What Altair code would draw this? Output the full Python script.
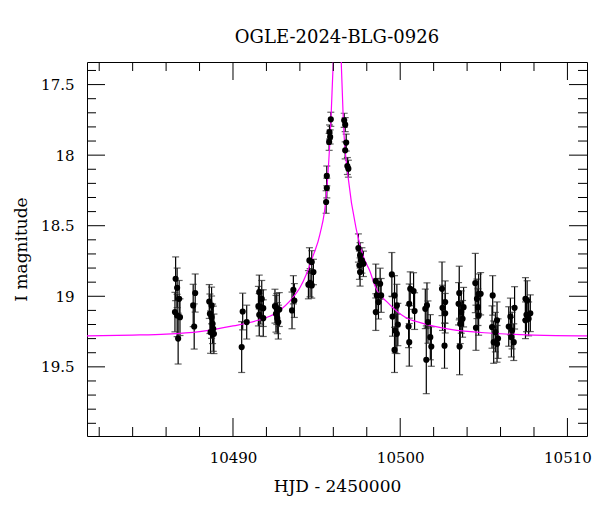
import altair as alt
import pandas as pd

# ---- observed photometry (HJD-2450000, I mag, error) ----
hjd = [
    10486.57, 10486.66, 10486.78, 10486.53, 10486.66, 10486.83, 10486.72,
    10487.74, 10487.62, 10487.68,
    10488.58, 10488.72, 10488.62, 10488.72, 10488.78, 10488.82, 10488.66, 10488.86,
    10490.58, 10490.52, 10490.82,
    10491.57, 10491.72, 10491.52, 10491.66, 10491.81, 10491.57, 10491.81,
    10492.51, 10492.62, 10492.77, 10492.57, 10492.65, 10492.71,
    10493.61, 10493.67, 10493.53,
    10494.57, 10494.71, 10494.81, 10494.61, 10494.71, 10494.51,
    10495.85, 10495.77, 10495.81, 10495.75, 10495.61, 10495.61, 10495.57,
    10496.65, 10496.71, 10496.77, 10496.71, 10496.84, 10496.90,
    10497.50, 10497.60, 10497.71, 10497.56, 10497.80, 10497.60,
    10498.54, 10498.80, 10498.60, 10498.86, 10498.70, 10498.54,
    10499.50, 10499.66, 10499.80, 10499.54, 10499.86, 10499.70, 10499.80, 10499.66,
    10500.60, 10500.80, 10500.54, 10500.86, 10500.50, 10500.54,
    10501.60, 10501.50, 10501.66, 10501.80, 10501.86, 10501.56,
    10502.50, 10502.69, 10502.53, 10502.69, 10502.65,
    10503.53, 10503.49, 10503.79, 10503.65, 10503.73, 10503.59, 10503.55,
    10504.49, 10504.69, 10504.81, 10504.59, 10504.65, 10504.69, 10504.53,
    10505.53, 10505.79, 10505.49, 10505.69, 10505.59, 10505.79, 10505.85,
    10506.84, 10506.59, 10506.49, 10506.69, 10506.65, 10506.79,
    10507.49, 10507.59, 10507.78, 10507.55, 10507.68, 10507.49,
]
imag = [
    18.876, 18.940, 19.018, 19.112, 19.136, 19.148, 19.300,
    18.977, 19.065, 19.214,
    19.037, 19.065, 19.124, 19.148, 19.195, 19.230, 19.254, 19.266,
    19.108, 19.360, 19.183,
    18.970, 19.018, 19.070, 19.077, 19.084, 19.131, 19.155,
    19.070, 19.090, 19.094, 19.124, 19.155, 19.183,
    18.954, 19.030, 19.100,
    18.746, 18.757, 18.828, 18.904, 18.923, 18.918,
    17.746, 17.836, 17.871, 17.906, 18.147, 18.233, 18.332,
    17.753, 17.784, 17.911, 17.966, 18.077, 18.096,
    18.658, 18.710, 18.746, 18.780, 18.770, 18.828,
    18.892, 18.911, 18.994, 18.994, 19.041, 19.112,
    18.845, 18.994, 19.065, 19.143, 19.200, 19.243, 19.266, 19.380,
    18.947, 18.963, 19.053, 19.105, 19.214, 19.325,
    19.065, 19.089, 19.183, 19.290, 19.356, 19.450,
    18.947, 19.041, 19.082, 19.120, 19.350,
    18.977, 19.053, 19.077, 19.112, 19.160, 19.195, 19.356,
    18.906, 18.982, 18.982, 19.018, 19.077, 19.136, 19.223,
    18.994, 19.170, 19.218, 19.254, 19.325, 19.337, 19.300,
    19.082, 19.143, 19.214, 19.243, 19.290, 19.325,
    19.018, 19.030, 19.120, 19.131, 19.160, 19.170,
]
ierr = [
    0.155, 0.14, 0.13, 0.14, 0.15, 0.13, 0.18,
    0.135, 0.15, 0.16,
    0.12, 0.13, 0.14, 0.15, 0.14, 0.16, 0.15, 0.14,
    0.13, 0.18, 0.12,
    0.12, 0.13, 0.14, 0.12, 0.13, 0.15, 0.13,
    0.12, 0.11, 0.12, 0.13, 0.11, 0.12,
    0.10, 0.12, 0.13,
    0.09, 0.08, 0.09, 0.10, 0.09, 0.10,
    0.05, 0.05, 0.05, 0.06, 0.07, 0.07, 0.08,
    0.05, 0.05, 0.06, 0.06, 0.06, 0.06,
    0.10, 0.09, 0.09, 0.10, 0.09, 0.10,
    0.12, 0.11, 0.12, 0.12, 0.12, 0.13,
    0.155, 0.14, 0.15, 0.14, 0.15, 0.16, 0.14, 0.16,
    0.12, 0.13, 0.14, 0.13, 0.15, 0.17,
    0.16, 0.14, 0.15, 0.16, 0.14, 0.24,
    0.19, 0.15, 0.16, 0.14, 0.16,
    0.19, 0.15, 0.14, 0.15, 0.13, 0.14, 0.20,
    0.21, 0.14, 0.15, 0.14, 0.13, 0.14, 0.16,
    0.14, 0.13, 0.15, 0.14, 0.15, 0.13, 0.14,
    0.15, 0.13, 0.14, 0.13, 0.14, 0.13,
    0.15, 0.14, 0.13, 0.12, 0.12, 0.13,
]

# ---- model curve ----
model_t = [10481.27, 10484.0, 10486.0, 10488.0, 10490.0, 10491.5, 10492.6,
           10493.6, 10494.0, 10494.4, 10494.8, 10495.2, 10495.6, 10495.85,
           10496.0, 10496.23, 10496.47, 10496.6, 10496.9, 10497.4, 10497.8,
           10498.2, 10498.5, 10499.3, 10500.3, 10501.3, 10503.0, 10505.5,
           10508.0, 10511.17]
model_m = [19.28, 19.275, 19.268, 19.25, 19.21, 19.17, 19.117,
           19.006, 18.94, 18.84, 18.71, 18.56, 18.26, 17.77,
           17.33, 16.9, 17.33, 17.76, 18.17, 18.54, 18.72,
           18.826, 18.93, 19.05, 19.148, 19.19, 19.235, 19.262,
           19.275, 19.28]

# ---- axis ticks ----
x_major = [10490, 10500, 10510]
x_minor = [10482, 10484, 10486, 10488, 10492, 10494, 10496, 10498,
           10502, 10504, 10506, 10508]
y_major = [17.5, 18.0, 18.5, 19.0, 19.5]
y_minor = [17.4, 17.6, 17.7, 17.8, 17.9, 18.1, 18.2, 18.3, 18.4, 18.6,
           18.7, 18.8, 18.9, 19.1, 19.2, 19.3, 19.4, 19.6, 19.7, 19.8, 19.9]

W, H = 500, 374
FONT = "DejaVu Serif"

obs = pd.DataFrame({"t": hjd, "m": imag, "e": ierr})
obs["lo"] = obs["m"] - obs["e"]
obs["hi"] = obs["m"] + obs["e"]
model = pd.DataFrame({"t": model_t, "m": model_m})

xs = alt.Scale(domain=[10481.27, 10511.17], nice=False, zero=False)
ys = alt.Scale(domain=[17.34, 19.99], nice=False, zero=False, reverse=True)

xaxis = alt.Axis(values=x_major, format="d", ticks=False, domain=False, grid=False,
                 labelFont=FONT, labelFontSize=15, labelColor="black", labelPadding=14,
                 title="HJD - 2450000", titleFont=FONT, titleFontSize=17,
                 titleFontWeight="normal", titleColor="black", titlePadding=13)
yaxis = alt.Axis(values=y_major, format="~g", ticks=False, domain=False, grid=False,
                 labelFont=FONT, labelFontSize=15, labelColor="black", labelPadding=13,
                 title="I magnitude", titleFont=FONT, titleFontSize=17,
                 titleFontWeight="normal", titleColor="black", titlePadding=10)


def X(field):
    return alt.X(field, type="quantitative", scale=xs, axis=xaxis, title="HJD - 2450000")


def Y(field):
    return alt.Y(field, type="quantitative", scale=ys, axis=yaxis, title="I magnitude")


bars = alt.Chart(obs).mark_rule(color="black", strokeWidth=1.2, clip=True).encode(
    x=X("t"), y=Y("lo"), y2="hi:Q",
)
cap_lo = alt.Chart(obs).mark_tick(orient="horizontal", size=7, thickness=1.2,
                                  color="#222222", clip=True).encode(x=X("t"), y=Y("lo"))
cap_hi = alt.Chart(obs).mark_tick(orient="horizontal", size=7, thickness=1.2,
                                  color="#222222", clip=True).encode(x=X("t"), y=Y("hi"))
curve = alt.Chart(model).mark_line(color="#ff00ff", strokeWidth=1.2, clip=True,
                                   interpolate="monotone").encode(x=X("t"), y=Y("m"))
pts = alt.Chart(obs).mark_circle(color="black", opacity=1, size=38, clip=True).encode(
    x=X("t"), y=Y("m"),
)


def xticks(vals, length):
    d = pd.DataFrame({"v": vals})
    bottom = alt.Chart(d).mark_rule(color="black", strokeWidth=1).encode(
        x=X("v"), y=alt.value(H), y2=alt.value(H - length))
    top = alt.Chart(d).mark_rule(color="black", strokeWidth=1).encode(
        x=X("v"), y=alt.value(0), y2=alt.value(length))
    return [bottom, top]


def yticks(vals, length):
    d = pd.DataFrame({"v": vals})
    left = alt.Chart(d).mark_rule(color="black", strokeWidth=1).encode(
        y=Y("v"), x=alt.value(0), x2=alt.value(length))
    right = alt.Chart(d).mark_rule(color="black", strokeWidth=1).encode(
        y=Y("v"), x=alt.value(W), x2=alt.value(W - length))
    return [left, right]


layers = [bars, cap_lo, cap_hi, curve, pts]
layers += xticks(x_major, 18) + xticks(x_minor, 9)
layers += yticks(y_major, 18) + yticks(y_minor, 9)

chart = alt.layer(*layers).properties(
    width=W, height=H,
    title=alt.TitleParams("OGLE-2024-BLG-0926", font=FONT, fontSize=18,
                          fontWeight="normal", color="black", anchor="middle",
                          frame="group", offset=15),
    autosize=alt.AutoSizeParams(type="none"),
    padding={"left": 87, "top": 62, "right": 13, "bottom": 76},
    background="white",
).configure_view(stroke="black", strokeWidth=1)

chart.save("out.html", embed_options={"renderer": "svg", "actions": False})
